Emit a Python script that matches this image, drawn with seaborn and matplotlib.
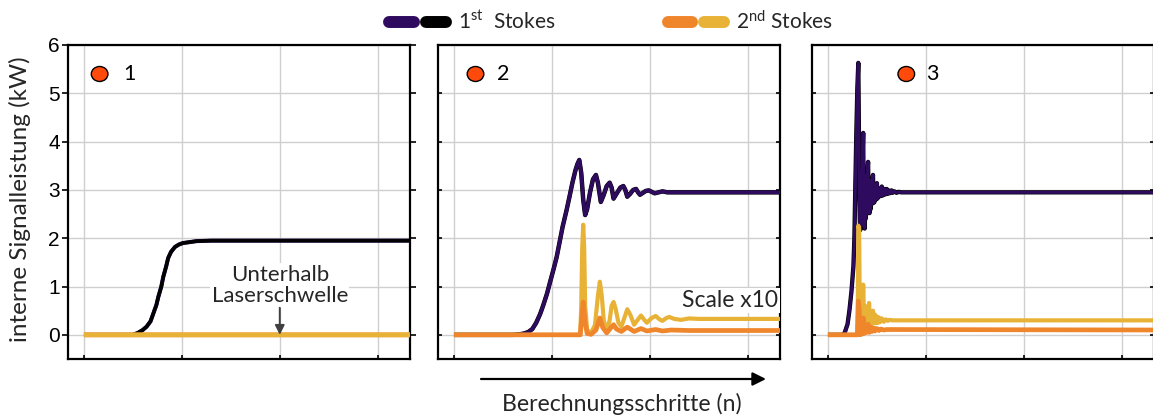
import matplotlib
matplotlib.use("Agg")
import matplotlib.pyplot as plt
from matplotlib.lines import Line2D
from matplotlib.patches import Ellipse, FancyArrowPatch
import seaborn as sns

sns.set_theme(style="white")
plt.rcParams["font.family"] = ["Lato", "DejaVu Sans"]
plt.rcParams["mathtext.fontset"] = "custom"
plt.rcParams["mathtext.rm"] = "Lato"
plt.rcParams["mathtext.it"] = "Lato:italic"

# ---------------- data (normalised computation steps vs. internal power in kW)
# Panel 1: below threshold
p1_n = [0, 0.50, 0.55, 0.60, 0.64, 0.68, 0.71, 0.74, 0.76, 0.79, 0.81, 0.84,
        0.86, 0.89, 0.93, 0.97, 1.01, 1.08, 1.15, 1.30, 1.60, 3.40]
p1_first = [0, 0, 0.04, 0.10, 0.17, 0.28, 0.45, 0.62, 0.79, 1.00, 1.20, 1.42,
            1.59, 1.72, 1.82, 1.87, 1.90, 1.92, 1.94, 1.95, 1.95, 1.95]
p1_second_n = [0, 3.40]
p1_second = [0, 0]

# Panel 2
p2_first_n = [0, 0.60, 0.67, 0.72, 0.76, 0.80, 0.84, 0.88, 0.91, 0.95, 0.98,
              1.02, 1.05, 1.08, 1.11, 1.15, 1.18, 1.21, 1.24, 1.26, 1.28, 1.30,
              1.32, 1.34, 1.36, 1.39, 1.42, 1.45, 1.47, 1.50, 1.53, 1.56, 1.59,
              1.61, 1.63, 1.66, 1.70, 1.73, 1.75, 1.77, 1.80, 1.83, 1.86, 1.88,
              1.90, 1.93, 1.96, 1.99, 2.02, 2.05, 2.09, 2.13, 2.18, 2.25, 3.40]
p2_first = [0, 0, 0.01, 0.03, 0.06, 0.12, 0.25, 0.43, 0.60, 0.85, 1.08,
            1.38, 1.62, 1.93, 2.24, 2.58, 2.86, 3.15, 3.40, 3.53, 3.62, 3.35,
            2.80, 2.48, 2.60, 2.95, 3.22, 3.31, 3.15, 2.75, 2.90, 3.08, 3.15,
            3.05, 2.82, 2.92, 3.05, 3.08, 3.00, 2.86, 2.92, 3.00, 3.02, 2.95,
            2.90, 2.94, 2.98, 2.99, 2.96, 2.93, 2.95, 2.97, 2.95, 2.95, 2.95]
p2_yellow_n = [0, 1.29, 1.30, 1.31, 1.32, 1.33, 1.34, 1.36, 1.40, 1.44, 1.47,
               1.49, 1.51, 1.53, 1.56, 1.59, 1.61, 1.63, 1.65, 1.68, 1.71, 1.74,
               1.77, 1.80, 1.84, 1.88, 1.91, 1.94, 1.97, 2.02, 2.06, 2.10, 2.13,
               2.17, 2.20, 2.25, 2.32, 2.40, 2.50, 3.40]
p2_yellow = [0, 0, 0.60, 1.80, 2.28, 1.80, 0.60, 0.10, 0.04, 0.20, 0.80,
             1.10, 0.80, 0.30, 0.08, 0.30, 0.60, 0.68, 0.55, 0.25, 0.17, 0.35,
             0.53, 0.42, 0.21, 0.32, 0.40, 0.32, 0.25, 0.35, 0.39, 0.32, 0.29,
             0.35, 0.37, 0.33, 0.31, 0.34, 0.33, 0.33]
p2_orange_n = [0, 1.29, 1.30, 1.32, 1.34, 1.36, 1.40, 1.45, 1.49, 1.52, 1.56,
               1.60, 1.63, 1.66, 1.71, 1.77, 1.84, 1.91, 1.97, 2.06, 2.13, 2.22,
               2.40, 3.40]
p2_orange = [0, 0, 0.25, 0.68, 0.25, 0.03, 0.01, 0.10, 0.35, 0.15, 0.04,
             0.14, 0.21, 0.12, 0.07, 0.16, 0.07, 0.13, 0.08, 0.11, 0.08, 0.10,
             0.09, 0.09]

# Panel 3
p3_first_n = [0, 0.15, 0.17, 0.20, 0.22, 0.24, 0.26, 0.27, 0.28, 0.29, 0.30,
              0.31, 0.315, 0.32, 0.325, 0.33, 0.335, 0.34, 0.345, 0.35, 0.355,
              0.36, 0.365, 0.37, 0.375, 0.38, 0.385, 0.39, 0.395, 0.40, 0.41,
              0.415, 0.42, 0.425, 0.43, 0.435, 0.44, 0.445, 0.45, 0.46, 0.465,
              0.47, 0.475, 0.48, 0.49, 0.50, 0.505, 0.51, 0.515, 0.52, 0.53,
              0.54, 0.55, 0.555, 0.56, 0.57, 0.58, 0.59, 0.60, 0.61, 0.62,
              0.63, 0.64, 0.65, 0.66, 0.68, 0.70, 0.72, 0.75, 3.40]
p3_first = [0, 0, 0.04, 0.22, 0.52, 0.90, 1.42, 2.00, 3.14, 4.20, 5.10,
            5.63, 4.50, 3.00, 2.40, 2.17, 3.00, 2.25, 3.40, 2.30, 3.80,
            4.18, 2.60, 3.20, 2.20, 3.30, 2.40, 3.20, 2.50, 3.30, 3.58,
            2.60, 3.10, 2.52, 3.20, 2.60, 3.10, 2.70, 3.15, 3.31, 2.73,
            3.05, 2.75, 3.10, 2.80, 3.14, 2.82, 3.00, 2.85, 3.02, 2.87,
            3.02, 3.07, 2.88, 3.00, 2.90, 3.02, 2.91, 3.02, 2.92, 2.99,
            2.93, 2.98, 2.99, 2.94, 2.97, 2.94, 2.96, 2.95, 2.95]
p3_yellow_n = [0, 0.30, 0.305, 0.31, 0.318, 0.325, 0.33, 0.34, 0.35, 0.36,
               0.37, 0.38, 0.39, 0.40, 0.41, 0.42, 0.43, 0.44, 0.45, 0.46,
               0.47, 0.48, 0.49, 0.50, 0.51, 0.52, 0.53, 0.55, 0.57, 0.59,
               0.61, 0.63, 0.66, 3.40]
p3_yellow = [0, 0, 0.50, 2.26, 2.20, 0.60, 0.10, 0.50, 0.20, 1.04,
             0.15, 0.60, 0.20, 0.50, 0.25, 0.66, 0.20, 0.45, 0.22, 0.50,
             0.25, 0.42, 0.24, 0.38, 0.25, 0.36, 0.26, 0.34, 0.27, 0.32,
             0.29, 0.31, 0.30, 0.30]
p3_orange_n = [0, 0.30, 0.305, 0.31, 0.32, 0.325, 0.33, 0.34, 0.35, 0.36,
               0.37, 0.38, 0.39, 0.41, 0.42, 0.44, 0.45, 0.47, 0.48, 0.50,
               0.52, 0.54, 0.57, 0.60, 3.40]
p3_orange = [0, 0, 0.30, 0.70, 0.50, 0.10, 0.00, 0.20, 0.02, 0.35,
             0.03, 0.20, 0.05, 0.22, 0.05, 0.16, 0.07, 0.14, 0.08, 0.13,
             0.09, 0.12, 0.10, 0.11, 0.10]

y_ticks = [0, 1, 2, 3, 4, 5, 6]
x_ticks = [0, 1, 2, 3]
panel_labels = ["1", "2", "3"]

# ---------------- styling
PURPLE = "#2f0b5f"
BLACK = "#000000"
ORANGE = "#f0862c"
YELLOW = "#e8b236"
MARKER = "#ff4a0c"
GRID = "#cfcfcf"
LW = 2.6
LW2 = 3.4   # second Stokes lines sit on top and cover the first at zero

fig = plt.figure(figsize=(11.53, 4.19), dpi=100)
W, H = 1153, 419
top, bottom = 45, 359
width = 342
lefts = [68, 438, 812]
axes = [fig.add_axes([l / W, 1 - bottom / H, width / W, (bottom - top) / H])
        for l in lefts]

x_lo, x_hi = -0.163, 3.33


def line(ax, x, y, color, lw=LW, z=2):
    sns.lineplot(x=x, y=y, ax=ax, color=color, lw=lw, estimator=None,
                 sort=False, zorder=z, solid_capstyle="butt",
                 solid_joinstyle="round", snap=False)


# panel 1: purple under black, flat second Stokes on top
line(axes[0], p1_n, p1_first, PURPLE, lw=LW + 0.3, z=2)
line(axes[0], p1_n, p1_first, BLACK, lw=LW, z=3)
line(axes[0], p1_second_n, p1_second, ORANGE, lw=LW2, z=4)
line(axes[0], p1_second_n, p1_second, YELLOW, lw=LW2, z=5)

# panel 2
line(axes[1], p2_first_n, p2_first, BLACK, lw=LW + 0.6, z=2)
line(axes[1], p2_first_n, p2_first, PURPLE, lw=LW, z=3)
line(axes[1], p2_yellow_n, p2_yellow, YELLOW, lw=LW2 - 0.4, z=4)
line(axes[1], p2_orange_n, p2_orange, ORANGE, lw=LW2, z=5)

# panel 3
line(axes[2], p3_first_n, p3_first, BLACK, lw=LW + 0.5, z=2)
line(axes[2], p3_first_n, p3_first, PURPLE, lw=LW - 0.4, z=3)
line(axes[2], p3_yellow_n, p3_yellow, YELLOW, lw=LW2 - 0.4, z=4)
line(axes[2], p3_orange_n, p3_orange, ORANGE, lw=LW2, z=5)

marker_pos = [(0.16, 0.47), (0.22, 0.50), (0.80, 1.07)]

for i, ax in enumerate(axes):
    ax.set_xlim(x_lo, x_hi)
    ax.set_ylim(-0.5, 6)
    ax.set_xticks(x_ticks)
    ax.set_yticks(y_ticks)
    ax.set_xticklabels([])
    ax.grid(True, color=GRID, lw=1.0)
    ax.set_axisbelow(True)
    for s in ax.spines.values():
        s.set_color("black")
        s.set_linewidth(1.6)
    ax.tick_params(axis="x", direction="in", length=3, width=1.2,
                   bottom=True, top=False, colors="black")
    ax.tick_params(axis="y", direction="in", length=3, width=1.2,
                   left=True, right=True, colors="black")
    ax.set_xlabel("")
    ax.set_ylabel("")
    if i == 0:
        ax.tick_params(axis="y", direction="out", length=4, pad=2,
                       labelsize=15, labelcolor="black")
        for t in ax.get_yticklabels():
            t.set_fontfamily(["Liberation Sans", "DejaVu Sans"])
    else:
        ax.set_yticklabels([])
    mx, tx = marker_pos[i]
    ax.add_patch(Ellipse((mx, 5.4), 0.17, 0.31, facecolor=MARKER,
                         edgecolor="black", lw=1.0, zorder=6))
    ax.text(tx, 5.4, panel_labels[i], fontsize=15.5, va="center",
            ha="center", color="black", zorder=6)

# annotations
axes[0].text(2.0, 1.02, "Unterhalb\nLaserschwelle", ha="center", va="center",
             fontsize=16, linespacing=1.1, zorder=6,
             bbox=dict(facecolor="white", edgecolor="none", pad=1.0))
axes[0].annotate("", xy=(2.0, 0.0), xytext=(2.0, 0.56),
                 arrowprops=dict(arrowstyle="-|>", color="#404040", lw=1.4,
                                 mutation_scale=14, shrinkA=0, shrinkB=0),
                 zorder=7)
axes[1].text(2.82, 0.72, "Scale x10", ha="center", va="center",
             fontsize=16.5, zorder=6,
             bbox=dict(facecolor="white", edgecolor="none", pad=1.5))

# y label
fig.text(20 / W, 1 - 199 / H, "interne Signalleistung (kW)", rotation=90,
         ha="center", va="center", fontsize=17.5)

# x direction arrow and label
fig.add_artist(FancyArrowPatch(
    (481 / W, 1 - 379 / H), (766 / W, 1 - 379 / H),
    transform=fig.transFigure, arrowstyle="-|>", mutation_scale=20,
    color="black", lw=1.6, shrinkA=0, shrinkB=0))
fig.text(622 / W, 1 - 404 / H, "Berechnungsschritte (n)", ha="center",
         va="center", fontsize=16.6)

# legend pills
legend_y = 1 - 22 / H
pill_lw = 8.6
for (x0, x1, c) in [(389, 414, PURPLE), (426, 446, BLACK),
                    (668, 692, ORANGE), (704, 724, YELLOW)]:
    fig.add_artist(Line2D([x0 / W, x1 / W], [legend_y, legend_y],
                          transform=fig.transFigure, lw=pill_lw, color=c,
                          solid_capstyle="round"))
fig.text(458 / W, legend_y, r"1$^{\mathrm{st}}$  Stokes", ha="left",
         va="center", fontsize=15)
fig.text(736 / W, legend_y, r"2$^{\mathrm{nd}}$ Stokes", ha="left",
         va="center", fontsize=15)

fig.savefig("out.png", dpi=100)
